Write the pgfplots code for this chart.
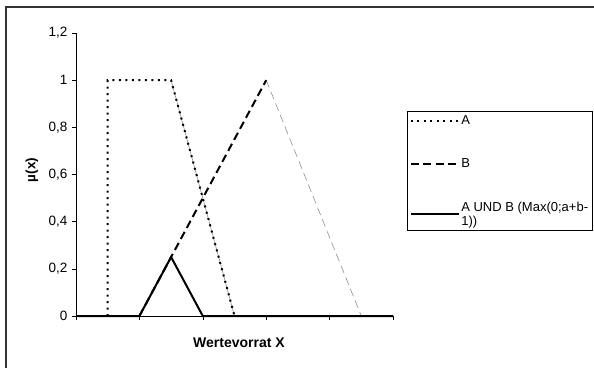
\documentclass[border=0pt]{standalone}
\usepackage{fontspec}
\setmainfont{Liberation Sans}
\usepackage{pgfplots}
\pgfplotsset{compat=1.18}
\pgfplotsset{tallimage/.style={legend image code/.code={\draw[##1] (0pt,0pt) -- (48pt,0pt); \path[draw=none] (0pt,-13.5pt) -- (0pt,0pt);}}}
\begin{document}
\begin{tikzpicture}
\useasboundingbox (0pt,0pt) rectangle (594pt,368pt);
\fill[white] (0pt,0pt) rectangle (594pt,368pt);
\draw[line width=1.3pt, black!80] (6pt,0pt) -- (6pt,361pt) -- (594pt,361pt);
\begin{axis}[
  at={(76pt,52pt)}, anchor=origin,
  scale only axis, width=317pt, height=283pt,
  xmin=0, xmax=10, ymin=0, ymax=1.2,
  axis lines*=left,
  axis line style={line width=0.6pt, black, -},
  xtick={0,2,4,6,8,10}, xticklabels={},
  ytick={0,0.2,0.4,0.6,0.8,1,1.2},
  yticklabels={0,{0,2},{0,4},{0,6},{0,8},1,{1,2}},
  tick align=outside, major tick length=4pt,
  tick style={black, line width=0.6pt},
  yticklabel style={font=\fontsize{13.5}{15}\selectfont, xshift=-1pt},
  xlabel={\textbf{Wertevorrat X}},
  ylabel={\textbf{µ(x)}},
  xlabel style={font=\fontsize{14}{16}\selectfont, at={(axis description cs:0.514,0)}, anchor=center, yshift=-27pt},
  ylabel style={font=\fontsize{13.5}{15}\selectfont, at={(axis description cs:-0.1388,0.516)}, anchor=center},
  clip=false,
  legend image code/.code={\draw[#1] (0pt,0pt) -- (48pt,0pt);},
  legend style={at={(axis description cs:1.0442,0.7244)}, anchor=north west,
    draw=black, line width=0.6pt, fill=white,
    font=\fontsize{13}{13.5}\selectfont,
    row sep=30pt, inner xsep=2.5pt, inner ysep=2.5pt,
    nodes={inner sep=1.5pt, font=\fontsize{13}{13.5}\selectfont},
    cells={anchor=west, align=left}},
]
% thin gray falling edges
\addplot[forget plot, gray, line width=0.5pt] coordinates {(3,1) (5,0)};
\addplot[forget plot, gray, line width=0.5pt, dash pattern=on 8pt off 4.5pt] coordinates {(6,1) (9,0)};
% A
\addplot[black, line width=2pt, dash pattern=on 2pt off 4.5pt] coordinates {(1,0) (1,1) (3,1) (5,0)};
\addlegendentry{A}
% B
\addplot[black, line width=2pt, dash pattern=on 8pt off 4.5pt] coordinates {(2,0) (6,1)};
\addlegendentry{B}
% A UND B
\addplot[black, line width=2pt, tallimage]
  coordinates {(0,0) (2,0) (3,0.25) (4,0) (10,0)};
\addlegendentry{A UND B (Max(0;a+b-\\1))}
\end{axis}
\end{tikzpicture}
\end{document}
